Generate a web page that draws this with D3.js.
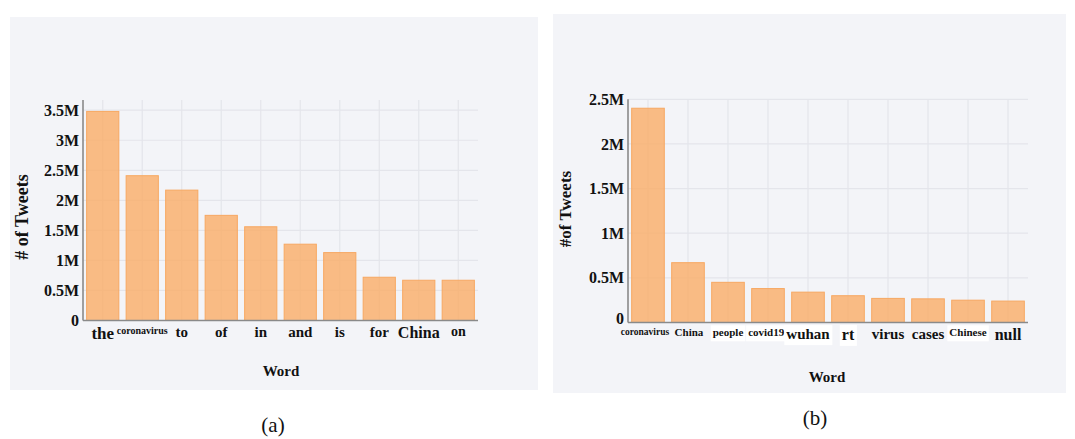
<!DOCTYPE html>
<html>
<head>
<meta charset="utf-8">
<script src="https://cdn.jsdelivr.net/npm/d3@7"></script>
<style>
  html, body { margin: 0; padding: 0; background: #ffffff; }
  svg { display: block; }
  text { font-family: "Liberation Serif", "Times New Roman", serif; fill: #111; }
</style>
</head>
<body>
<svg id="chart" width="1075" height="439"></svg>
<script>
// Word frequencies, all tweets (a)
const wordsA = ["the", "coronavirus", "to", "of", "in", "and", "is", "for", "China", "on"];
const countsA = [3480000, 2410000, 2170000, 1750000, 1560000, 1270000, 1130000, 720000, 670000, 670000];

// Word frequencies after stop-word removal (b)
const wordsB = ["coronavirus", "China", "people", "covid19·", "wuhan", "rt", "virus", "cases", "Chinese", "null"];
const countsB = [2400000, 670000, 450000, 380000, 340000, 300000, 270000, 265000, 250000, 240000];

const ticksA = [0, 500000, 1000000, 1500000, 2000000, 2500000, 3000000, 3500000];
const ticksB = [0, 500000, 1000000, 1500000, 2000000, 2500000];

// Per-label type sizes along each x axis
const labelSizeA = [17, 10, 15, 15, 15, 15, 15, 15, 16, 14];
const labelSizeB = [9.5, 11, 11, 11, 15, 16, 15, 15, 11, 16];
const labelBackedB = [false, false, true, true, true, true, false, false, true, false];
// small horizontal nudge for the first labels of (b)
const labelShiftB = [-3, 1, 0, 0, 0, 0, 0, 0, 0, 0];

const svg = d3.select("#chart");
const fmt = v => v === 0 ? "0" : (v / 1e6) + "M";

function panel(cfg) {
  const g = svg.append("g");
  g.append("rect")
    .attr("x", cfg.box[0]).attr("y", cfg.box[1])
    .attr("width", cfg.box[2]).attr("height", cfg.box[3])
    .attr("fill", "#f3f4f8");

  const x = d3.scaleBand().domain(cfg.words).range(cfg.xRange)
    .paddingInner(0.185).paddingOuter(0.092);
  const y = d3.scaleLinear().domain([0, cfg.yMax]).range(cfg.yRange);
  const [x0, x1] = cfg.xRange;
  const [yb, yt] = cfg.yRange;

  // horizontal grid
  g.append("g").selectAll("line").data(cfg.ticks.filter(t => t > 0)).join("line")
    .attr("x1", x0).attr("x2", x1)
    .attr("y1", d => y(d)).attr("y2", d => y(d))
    .attr("stroke", "#e4e5eb").attr("stroke-width", 1.2);
  // vertical grid at category centres
  g.append("g").selectAll("line").data(cfg.words).join("line")
    .attr("x1", d => x(d) + x.bandwidth() / 2).attr("x2", d => x(d) + x.bandwidth() / 2)
    .attr("y1", yt).attr("y2", yb)
    .attr("stroke", "#e4e5eb").attr("stroke-width", 1.2);

  // bars
  g.append("g").selectAll("rect").data(cfg.counts).join("rect")
    .attr("x", (d, i) => x(cfg.words[i]))
    .attr("y", d => y(d))
    .attr("width", x.bandwidth())
    .attr("height", d => y(0) - y(d))
    .attr("fill", "rgb(250,172,102)").attr("fill-opacity", 0.8)
    .attr("stroke", "#f7a862").attr("stroke-width", 1);

  // y axis
  const ya = d3.axisLeft(y).tickValues(cfg.ticks).tickFormat(fmt).tickSize(0).tickPadding(4);
  const yg = g.append("g").attr("transform", `translate(${x0},0)`).call(ya);
  yg.attr("font-family", null);
  yg.select(".domain").attr("stroke", "#8a8a8a").attr("stroke-width", 1.6)
    .attr("d", `M0,${yt}V${yb}`);
  yg.selectAll("text")
    .style("font-family", '"Liberation Serif", serif')
    .style("font-weight", "bold").style("font-size", "16px").attr("fill", "#111")
    .attr("dy", d => d === 0 ? cfg.zeroDy : "0.32em");

  // x axis
  const xa = d3.axisBottom(x).tickSize(0).tickPadding(cfg.labelPad);
  const xg = g.append("g").attr("transform", `translate(0,${yb})`).call(xa);
  xg.attr("font-family", null);
  xg.select(".domain").attr("stroke", "#8a8a8a").attr("stroke-width", 1.6)
    .attr("d", `M${x0},0H${x1}`);
  xg.selectAll(".tick text")
    .style("font-family", '"Liberation Serif", serif')
    .style("font-weight", "bold")
    .style("font-size", (d, i) => cfg.labelSize[i] + "px")
    .attr("fill", "#111")
    .attr("dx", (d, i) => cfg.shift ? cfg.shift[i] : 0)
    .attr("dy", "0.71em");

  // white backing behind some labels
  if (cfg.backed) {
    xg.selectAll(".tick").each(function (d, i) {
      if (!cfg.backed[i]) return;
      const t = d3.select(this).select("text");
      const bb = t.node().getBBox();
      d3.select(this).insert("rect", "text")
        .attr("x", bb.x - 2).attr("y", bb.y - 1)
        .attr("width", bb.width + 4).attr("height", bb.height + 4)
        .attr("fill", "#ffffff");
    });
  }

  // axis titles
  g.append("text")
    .attr("transform", `translate(${cfg.yTitlePos[0]},${cfg.yTitlePos[1]}) rotate(-90)`)
    .attr("text-anchor", "middle").attr("dominant-baseline", "middle")
    .style("font-weight", "bold").style("font-size", cfg.yTitleSize + "px")
    .text(cfg.yTitle);
  g.append("text")
    .attr("x", cfg.xTitlePos[0]).attr("y", cfg.xTitlePos[1])
    .attr("text-anchor", "middle").attr("dominant-baseline", "middle")
    .style("font-weight", "bold").style("font-size", "15px")
    .text("Word");
  g.append("text")
    .attr("x", cfg.capPos[0]).attr("y", cfg.capPos[1])
    .attr("text-anchor", "middle").attr("dominant-baseline", "middle")
    .style("font-size", "21px")
    .text(cfg.caption);
}

panel({
  box: [10, 17, 528, 373],
  words: wordsA, counts: countsA, ticks: ticksA, yMax: 3670000,
  xRange: [83, 478], yRange: [320.5, 100],
  labelSize: labelSizeA, labelPad: 6, zeroDy: "0.32em",
  yTitle: "# of Tweets", yTitleSize: 18, yTitlePos: [24, 217],
  xTitlePos: [281, 373], capPos: [273, 427], caption: "(a)"
});

panel({
  box: [553, 14, 513, 379],
  words: wordsB, counts: countsB, ticks: ticksB, yMax: 2500000,
  xRange: [628, 1028], yRange: [322.5, 99.3],
  labelSize: labelSizeB, backed: labelBackedB, shift: labelShiftB, labelPad: 6, zeroDy: "0.05em",
  yTitle: "#of Tweets", yTitleSize: 17, yTitlePos: [567, 209],
  xTitlePos: [827, 379], capPos: [815, 420], caption: "(b)"
});
</script>
</body>
</html>
